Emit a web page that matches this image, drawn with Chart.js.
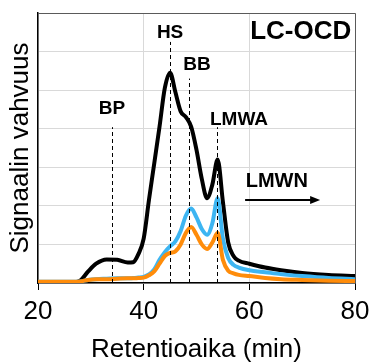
<!DOCTYPE html>
<html>
<head>
<meta charset="utf-8">
<script src="https://cdn.jsdelivr.net/npm/chart.js@4.4.1/dist/chart.umd.min.js"></script>
<style>
  html, body { margin: 0; padding: 0; background: #fff; }
  #wrap { width: 369px; height: 363px; position: relative; }
</style>
</head>
<body>
<div id="wrap"><canvas id="c" width="369" height="363"></canvas></div>
<script>
// Retention times (min)
const times = [20, 27, 28, 29.5, 31, 33, 35, 37, 38, 39, 40, 41, 42, 43, 44, 45, 46, 47, 48, 49, 50, 51, 52, 53, 54, 55, 56, 57, 58, 60, 63, 66, 70, 75, 80];
// Signal intensities (relative units)
const seriesBlack  = [0.02, 0.02, 0.06, 0.3, 0.5, 0.61, 0.6, 0.53, 0.54, 0.75, 1.15, 2.15, 3.1, 4.05, 5.05, 5.45, 4.95, 4.45, 4.3, 4.05, 3.45, 2.7, 2.2, 2.55, 3.2, 2.1, 1.05, 0.7, 0.58, 0.5, 0.4, 0.33, 0.26, 0.21, 0.18];
const seriesBlue   = [0.03, 0.03, 0.04, 0.08, 0.1, 0.11, 0.12, 0.12, 0.13, 0.14, 0.16, 0.22, 0.35, 0.6, 0.8, 0.95, 1.08, 1.35, 1.75, 1.93, 1.7, 1.4, 1.25, 1.55, 2.2, 1.15, 0.65, 0.47, 0.4, 0.33, 0.28, 0.23, 0.18, 0.13, 0.1];
const seriesOrange = [0.03, 0.03, 0.04, 0.08, 0.1, 0.1, 0.11, 0.12, 0.12, 0.13, 0.14, 0.2, 0.3, 0.5, 0.7, 0.78, 0.82, 1.0, 1.3, 1.45, 1.25, 1.0, 0.88, 1.05, 1.3, 0.6, 0.32, 0.25, 0.21, 0.18, 0.13, 0.1, 0.08, 0.06, 0.05];
// Fraction markers
const peakNames = ['BP', 'HS', 'BB', 'LMWA'];
const peakTimes = [34, 45, 48.6, 53.9];
const xTicks = [20, 40, 60, 80];

const FONT = '"Liberation Sans", Arial, sans-serif';

function pts(ys) { return times.map((t, i) => ({ x: t, y: ys[i] })); }

const markerStyle = {
  lineTops: [4.04, 6.25, 5.3, 4.04],
  labelPos: [[34, 4.53], [45, 6.48], [50.1, 5.65], [58.05, 4.22]]
};

const overlay = {
  id: 'overlay',
  afterDatasetsDraw(chart) {
    const ctx = chart.ctx, xs = chart.scales.x, ys = chart.scales.y, a = chart.chartArea;
    ctx.save();
    // dashed fraction lines
    ctx.strokeStyle = '#000';
    ctx.lineWidth = 1;
    ctx.setLineDash([4, 3]);
    peakTimes.forEach((t, i) => {
      const px = Math.round(xs.getPixelForValue(t)) + 0.5;
      ctx.beginPath();
      ctx.moveTo(px, ys.getPixelForValue(0));
      ctx.lineTo(px, ys.getPixelForValue(markerStyle.lineTops[i]));
      ctx.stroke();
    });
    ctx.setLineDash([]);
    // labels
    ctx.fillStyle = '#000';
    ctx.textAlign = 'center';
    ctx.textBaseline = 'middle';
    ctx.font = 'bold 19px ' + FONT;
    peakNames.forEach((n, i) => {
      const p = markerStyle.labelPos[i];
      ctx.fillText(n, xs.getPixelForValue(p[0]), ys.getPixelForValue(p[1]));
    });
    ctx.font = 'bold 20px ' + FONT;
    ctx.fillText('LMWN', xs.getPixelForValue(65.2), ys.getPixelForValue(2.62));
    // arrow
    const ay = Math.round(ys.getPixelForValue(2.15));
    const ax1 = xs.getPixelForValue(59.2), ax2 = xs.getPixelForValue(73.4);
    ctx.lineWidth = 2;
    ctx.beginPath(); ctx.moveTo(ax1, ay); ctx.lineTo(ax2 - 8, ay); ctx.stroke();
    ctx.beginPath(); ctx.moveTo(ax2, ay); ctx.lineTo(ax2 - 10, ay - 4); ctx.lineTo(ax2 - 10, ay + 4); ctx.closePath(); ctx.fill();
    // panel label
    ctx.font = 'bold 26px ' + FONT;
    ctx.textAlign = 'right';
    ctx.fillText('LC-OCD', xs.getPixelForValue(79.3), ys.getPixelForValue(6.5));
    // frame top/right
    ctx.strokeStyle = '#5a5a5a';
    ctx.lineWidth = 1;
    ctx.beginPath();
    ctx.moveTo(a.left, Math.round(a.top) + 0.5);
    ctx.lineTo(Math.round(a.right) + 0.5, Math.round(a.top) + 0.5);
    ctx.lineTo(Math.round(a.right) + 0.5, a.bottom);
    ctx.stroke();
    ctx.restore();
  }
};

new Chart(document.getElementById('c'), {
  type: 'line',
  data: {
    datasets: [
      { data: pts(seriesOrange), borderColor: '#ff8c0a', borderWidth: 4, order: 1 },
      { data: pts(seriesBlue), borderColor: '#3db5f2', borderWidth: 4, order: 2 },
      { data: pts(seriesBlack), borderColor: '#000000', borderWidth: 4, order: 3 }
    ]
  },
  options: {
    responsive: false,
    animation: false,
    events: [],
    devicePixelRatio: 1,
    layout: { padding: { top: 13, right: 14, left: 0, bottom: 0 } },
    elements: { point: { radius: 0 }, line: { cubicInterpolationMode: 'monotone', borderCapStyle: 'round', borderJoinStyle: 'round' } },
    plugins: { legend: { display: false }, tooltip: { enabled: false }, title: { display: false } },
    scales: {
      x: {
        type: 'linear', min: 20, max: 80,
        afterBuildTicks(s) { s.ticks = xTicks.map(v => ({ value: v })); },
        afterFit(s) { s.height = 80; s.paddingLeft = 0; s.paddingRight = 0; },
        grid: { color: '#d9d9d9', lineWidth: 1, tickColor: '#000', tickLength: 7, drawOnChartArea: true },
        border: { color: '#000', width: 1.5 },
        ticks: { color: '#000', font: { family: FONT, size: 26 }, padding: 6, maxRotation: 0 },
        title: { display: true, text: 'Retentioaika (min)', color: '#000', font: { family: FONT, size: 26, lineHeight: 1.0 }, padding: { top: 0, bottom: 0 } }
      },
      y: {
        min: 0, max: 7,
        afterFit(s) { s.width = 38; s.paddingTop = 0; s.paddingBottom = 0; },
        grid: { color: '#d9d9d9', lineWidth: 1, drawTicks: false },
        border: { color: '#000', width: 1.5 },
        ticks: { display: false, stepSize: 1 },
        title: { display: true, text: 'Signaalin vahvuus', color: '#000', font: { family: FONT, size: 26 }, padding: { top: 5, bottom: 0 } }
      }
    }
  },
  plugins: [overlay]
});
</script>
</body>
</html>
